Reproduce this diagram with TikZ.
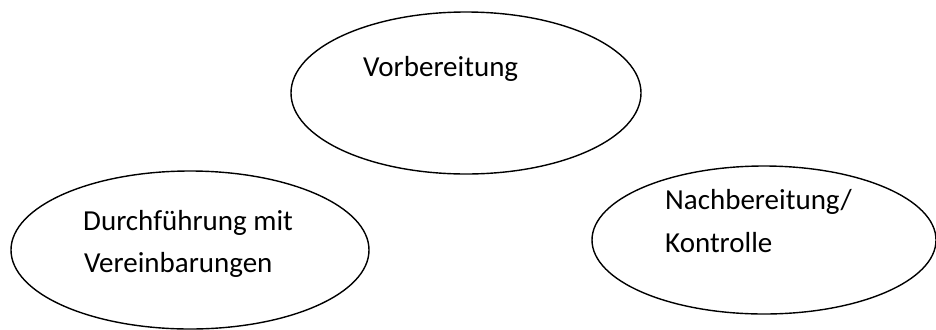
\documentclass[tikz,border=0pt]{standalone}
\usepackage{fontspec}
\setmainfont{Carlito}
\usetikzlibrary{shapes.geometric}
\begin{document}
\begin{tikzpicture}[x=1bp,y=-1bp,
  oval/.style={draw, ellipse, line width=1.4bp, inner sep=0pt},
  lbl/.style={anchor=base west, inner sep=0pt, font=\fontsize{29bp}{35bp}\selectfont}]
\useasboundingbox (0,0) rectangle (936,329);
\node[oval, minimum width=350bp, minimum height=162bp] (vor) at (466,93) {};
\node[oval, minimum width=358bp, minimum height=158bp] (durch) at (190,250) {};
\node[oval, minimum width=344bp, minimum height=148bp] (nach) at (764,240) {};
\node[lbl] (t1) at (363,76) {Vorbereitung};
\node[lbl] (t2a) at (83,230) {Durchführung mit};
\node[lbl] (t2b) at (84,272) {Vereinbarungen};
\node[lbl] (t3a) at (665,209) {Nachbereitung/};
\node[lbl] (t3b) at (665,252) {Kontrolle};
\end{tikzpicture}
\end{document}
